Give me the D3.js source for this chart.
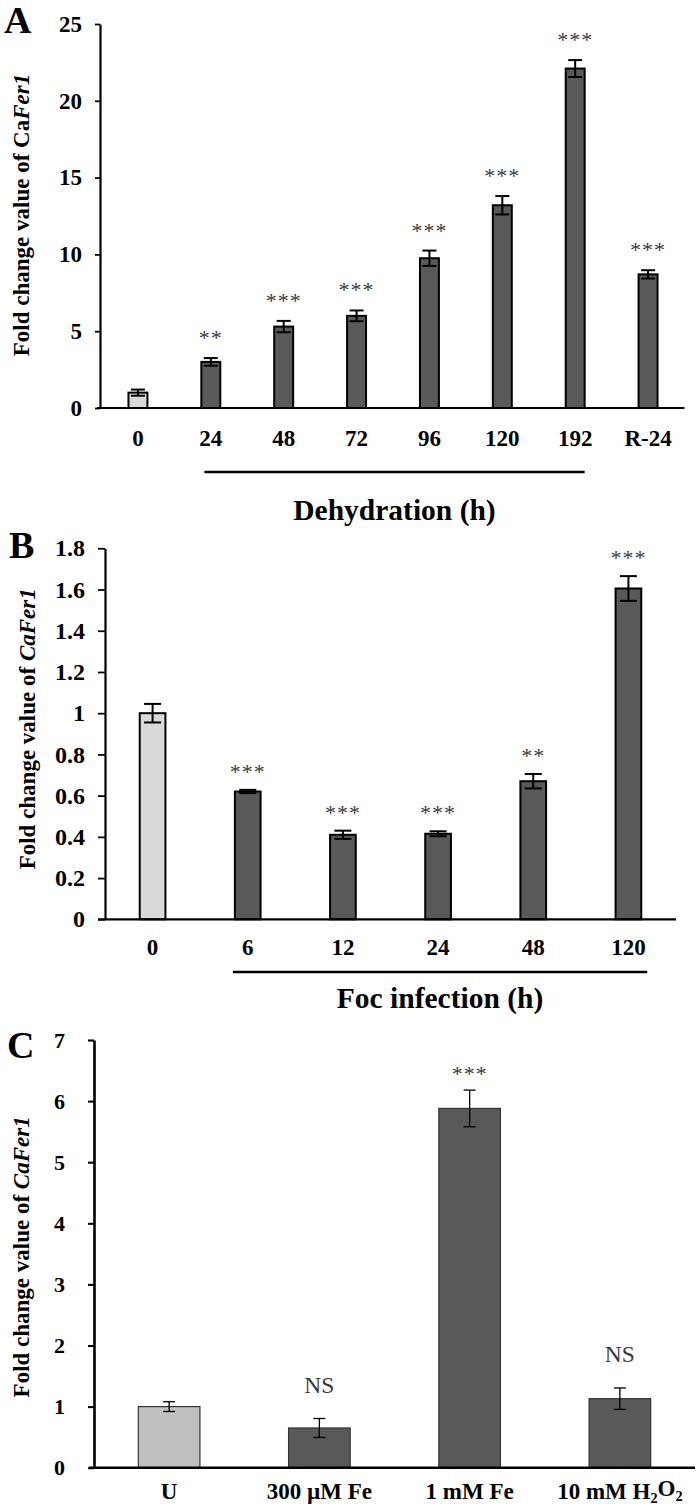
<!DOCTYPE html>
<html><head><meta charset="utf-8">
<script src="https://cdn.jsdelivr.net/npm/d3@7"></script>
<style>
body{margin:0;background:#fff}
svg{display:block}
text{font-family:"Liberation Serif","Times New Roman",serif}
</style>
</head><body>
<svg id="c" width="700" height="1509"></svg>
<script>
// ---------- Panel A : Dehydration ----------
const catsA = ["0","24","48","72","96","120","192","R-24"];
const valsA = [1.0, 3.0, 5.3, 6.0, 9.75, 13.2, 22.1, 8.7];
const errA  = [0.2, 0.25, 0.37, 0.35, 0.5, 0.6, 0.55, 0.27];
const sigA  = ["", "**", "***", "***", "***", "***", "***", "***"];
const ticksA = [0, 5, 10, 15, 20, 25];

// ---------- Panel B : Foc infection ----------
const catsB = ["0","6","12","24","48","120"];
const valsB = [1.0, 0.62, 0.41, 0.415, 0.67, 1.605];
const errB  = [0.045, 0.008, 0.02, 0.012, 0.035, 0.06];
const sigB  = ["", "***", "***", "***", "**", "***"];
const ticksB = [0, 0.2, 0.4, 0.6, 0.8, 1, 1.2, 1.4, 1.6, 1.8];

// ---------- Panel C : Fe / H2O2 ----------
const catsC = ["U", "300 \u00B5M Fe", "1 mM Fe", "10 mM H2O2"];
const valsC = [1.0, 0.65, 5.88, 1.13];
const errC  = [0.08, 0.155, 0.3, 0.175];
const sigC  = ["", "NS", "***", "NS"];
const ticksC = [0, 1, 2, 3, 4, 5, 6, 7];

const svg = d3.select("#c");
const FONT = '"Liberation Serif","Times New Roman",serif';

function panel(o) {
  const g = svg.append("g");
  const x = d3.scaleBand().domain(o.cats).range(o.xr)
    .paddingInner(o.pad).paddingOuter(o.pad / 2);
  const y = d3.scaleLinear().domain([0, o.ymax]).range(o.yr);
  const bw = x.bandwidth();

  // bars
  g.selectAll("rect.bar").data(o.vals).join("rect")
    .attr("class", "bar")
    .attr("x", (d, i) => x(o.cats[i]))
    .attr("y", d => y(d))
    .attr("width", bw)
    .attr("height", d => y(0) - y(d))
    .attr("fill", (d, i) => i === 0 ? o.light : o.dark)
    .attr("stroke", o.barStroke)
    .attr("stroke-width", o.barSW);

  // error bars
  const eb = g.selectAll("g.eb").data(o.vals).join("g").attr("class", "eb")
    .attr("stroke", "#000").attr("stroke-width", o.errSW);
  eb.append("line")
    .attr("x1", (d, i) => x(o.cats[i]) + bw / 2).attr("x2", (d, i) => x(o.cats[i]) + bw / 2)
    .attr("y1", (d, i) => y(d + o.errs[i])).attr("y2", (d, i) => y(d - o.errs[i]));
  eb.append("line")
    .attr("x1", (d, i) => x(o.cats[i]) + bw / 2 - o.cap).attr("x2", (d, i) => x(o.cats[i]) + bw / 2 + o.cap)
    .attr("y1", (d, i) => y(d + o.errs[i])).attr("y2", (d, i) => y(d + o.errs[i]));
  eb.append("line")
    .attr("x1", (d, i) => x(o.cats[i]) + bw / 2 - o.cap).attr("x2", (d, i) => x(o.cats[i]) + bw / 2 + o.cap)
    .attr("y1", (d, i) => y(d - o.errs[i])).attr("y2", (d, i) => y(d - o.errs[i]));

  // significance marks
  g.selectAll("text.sig").data(o.vals).join("text")
    .attr("class", "sig")
    .attr("x", (d, i) => x(o.cats[i]) + bw / 2)
    .attr("y", (d, i) => y(d + o.errs[i]) - (o.sigs[i] === "NS" ? o.nsOff : o.starOff))
    .attr("text-anchor", "middle")
    .attr("font-size", (d, i) => o.sigs[i] === "NS" ? o.nsSize : o.starSize)
    .attr("fill", "#3a3a3a")
    .attr("letter-spacing", (d, i) => o.sigs[i] === "NS" ? 0 : 1)
    .text((d, i) => o.sigs[i]);

  // y axis
  const ya = g.append("g").attr("transform", `translate(${o.yAxisX},0)`)
    .call(d3.axisLeft(y).tickValues(o.ticks).tickFormat(d => String(+d.toFixed(1)))
      .tickSize(o.tickLen).tickSizeOuter(0).tickPadding(o.tickPad));
  ya.attr("font-family", FONT).attr("font-size", o.yTickSize).attr("font-weight", "bold");
  ya.select(".domain").attr("stroke-width", o.axisSW);
  ya.selectAll(".tick line").attr("stroke-width", o.axisSW * 0.8);
  ya.selectAll(".tick text").attr("fill", "#000");

  // x axis
  const xa = g.append("g").attr("transform", `translate(0,${y(0)})`)
    .call(d3.axisBottom(x).tickSize(0).tickSizeOuter(0).tickPadding(o.xPad));
  xa.attr("font-family", FONT).attr("font-size", o.xTickSize).attr("font-weight", "bold");
  xa.select(".domain").attr("stroke-width", o.axisSW)
    .attr("d", `M${o.yAxisX - o.xLeftExt},0H${o.xr[1]}`);
  xa.selectAll(".tick text").attr("fill", "#000").each(function(d) {
    if (d.indexOf("H2O2") >= 0) {
      const t = d3.select(this).text(null);
      t.append("tspan").text("10 mM H");
      t.append("tspan").attr("font-size", "0.62em").attr("dy", "0.3em").text("2");
      t.append("tspan").attr("dy", "-0.3em").text("O");
      t.append("tspan").attr("font-size", "0.62em").attr("dy", "0.3em").text("2");
    }
  });

  // bracket + group title
  if (o.bracket) {
    const bx1 = x(o.bracket[0]) + o.brOff[0];
    const bx2 = x(o.bracket[1]) + bw + o.brOff[1];
    g.append("line").attr("x1", bx1).attr("x2", bx2)
      .attr("y1", o.brY).attr("y2", o.brY)
      .attr("stroke", "#000").attr("stroke-width", 2.6);
    g.append("text").attr("x", (bx1 + bx2) / 2).attr("y", o.titleY)
      .attr("text-anchor", "middle").attr("font-size", o.titleSize)
      .attr("font-weight", "bold").text(o.title);
  }

  // y axis title
  const yt = g.append("text")
    .attr("transform", `translate(${o.yTitleX},${(o.yr[0] + o.yr[1]) / 2 + o.yTitleDY}) rotate(-90)`)
    .attr("text-anchor", "middle").attr("font-size", o.yTitleSize).attr("font-weight", "bold");
  yt.append("tspan").text("Fold change value of ");
  yt.append("tspan").attr("font-style", o.caItalic ? "italic" : "normal").text("Ca");
  yt.append("tspan").attr("font-style", "italic").text("Fer1");

  // panel letter
  g.append("text").attr("x", o.letterXY[0]).attr("y", o.letterXY[1])
    .attr("font-size", 38).attr("font-weight", "bold").text(o.letter);
}

panel({
  cats: catsA, vals: valsA, errs: errA, sigs: sigA, ticks: ticksA, ymax: 25,
  xr: [101.5, 684.5], yr: [408, 24], pad: 0.74, yAxisX: 100, xLeftExt: 3,
  light: "#d9d9d9", dark: "#595959", barStroke: "#000", barSW: 2,
  errSW: 2, cap: 7, starOff: 13, nsOff: 25, starSize: 22, nsSize: 23,
  tickLen: 5, tickPad: 13, yTickSize: 23, axisSW: 2.2,
  xPad: 21.5, xTickSize: 23,
  bracket: ["24", "192"], brOff: [3, 0], brY: 472, titleY: 520, titleSize: 29.5, title: "Dehydration (h)",
  yTitleX: 29, yTitleDY: -1, yTitleSize: 23, caItalic: false,
  letter: "A", letterXY: [4, 33]
});

panel({
  cats: catsB, vals: valsB, errs: errB, sigs: sigB, ticks: ticksB, ymax: 1.8,
  xr: [105, 676], yr: [919.3, 548.3], pad: 0.73, yAxisX: 105, xLeftExt: 7,
  light: "#d9d9d9", dark: "#595959", barStroke: "#000", barSW: 2,
  errSW: 2, cap: 8.5, starOff: 11, nsOff: 25, starSize: 22, nsSize: 23,
  tickLen: 7, tickPad: 13, yTickSize: 24, axisSW: 2.2,
  xPad: 19.5, xTickSize: 23,
  bracket: ["6", "120"], brOff: [-2, 6], brY: 972, titleY: 1008, titleSize: 29.5, title: "Foc infection (h)",
  yTitleX: 35, yTitleDY: -5, yTitleSize: 23, caItalic: true,
  letter: "B", letterXY: [9, 558]
});

panel({
  cats: catsC, vals: valsC, errs: errC, sigs: sigC, ticks: ticksC, ymax: 7,
  xr: [94, 695], yr: [1467.7, 1040], pad: 0.59, yAxisX: 94, xLeftExt: 5,
  light: "#c0c0c0", dark: "#595959", barStroke: "#333", barSW: 1.2,
  errSW: 1.3, cap: 6, starOff: 9, nsOff: 26, starSize: 22, nsSize: 23.5,
  tickLen: 6, tickPad: 23, yTickSize: 22, axisSW: 2.6,
  xPad: 15, xTickSize: 23,
  bracket: null,
  yTitleX: 29, yTitleDY: 3, yTitleSize: 23, caItalic: true,
  letter: "C", letterXY: [7, 1058]
});
</script>
</body></html>
